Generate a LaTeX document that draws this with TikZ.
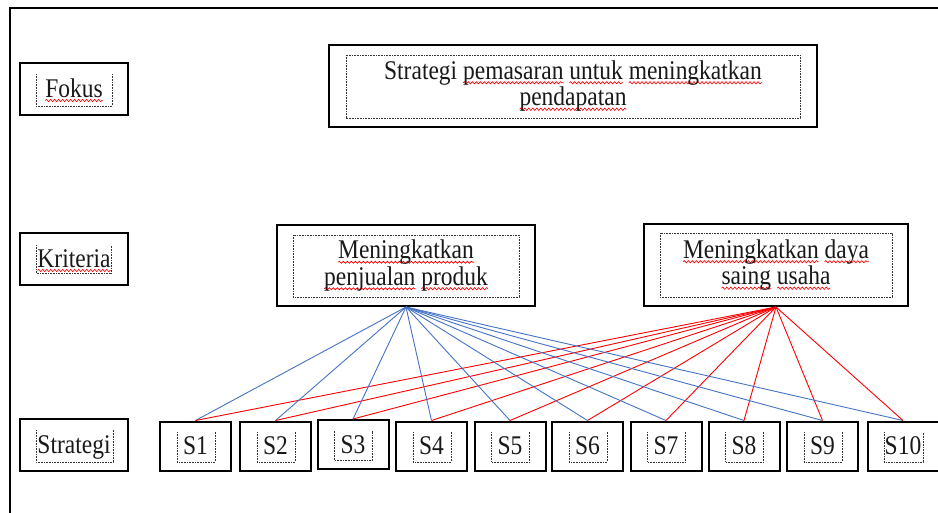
\documentclass[tikz,border=0pt]{standalone}
\usepackage{fontspec}
\setmainfont{Liberation Serif}
\newfontfamily\tallfont{Liberation Serif}[FakeStretch=0.87]
\usetikzlibrary{calc,decorations.pathmorphing}
\newcommand\sq[1]{\setbox0=\hbox{#1}\leavevmode\rlap{\tikz[overlay,baseline=0pt]\draw[red,line width=0.65pt,solid,decorate,decoration={snake,amplitude=1.1pt,segment length=4pt}] (0pt,-3.5pt) -- (\wd0,-3.5pt);}\box0\relax}
\newcommand\openframe[5]{\draw[dotf] ($(#1)+(#2,#3)$) -- ($(#1)+(#2,#5)$) -- ($(#1)+(#4,#5)$) -- ($(#1)+(#4,#3)$);}
\begin{document}
\begin{tikzpicture}[x=1pt,y=-1pt,
  box/.style={draw=black, line width=2pt, inner sep=0pt, text=black!90, font=\tallfont\fontsize{27}{26.5}\selectfont},
  lbl/.style={box, minimum width=108pt, minimum height=52pt, text height=21pt, text depth=4pt},
  sbox/.style={box, minimum width=71pt, minimum height=49pt, text height=21pt, text depth=4pt},
  dotf/.style={line width=0.7pt, dash pattern=on 0.8pt off 0.8pt, draw=black!80},
  bl/.style={draw={rgb,255:red,68;green,114;blue,196}, line width=0.9pt},
  rl/.style={draw=red, line width=0.9pt}]
\useasboundingbox (0,0) rectangle (938,512);
\draw[line width=2pt] (10,525) -- (10,8) -- (950,8);

% left labels
\node[lbl] (fokus) at (74,88.5) {\sq{Fokus}};
\node[lbl] (kriteria) at (74,258.5) {\sq{Kriteria}};
\node[lbl] (strategi) at (74,445) {Strategi};

% focus and criteria
\node[box, align=center, minimum width=488pt, minimum height=82pt] (goal) at (573,86)
  {Strategi \sq{pemasaran} \sq{untuk} \sq{meningkatkan}\\\sq{pendapatan}};
\node[box, align=center, minimum width=258pt, minimum height=81pt] (k1) at (406,265.5)
  {\sq{Meningkatkan}\\\sq{penjualan} \sq{produk}};
\node[box, align=center, minimum width=264pt, minimum height=82pt] (k2) at (776,265)
  {\sq{Meningkatkan} \sq{daya}\\\sq{saing} \sq{usaha}};

% strategies
\node[sbox] (s1) at (195.5,446) {S1};
\node[sbox] (s2) at (275.5,446) {S2};
\node[sbox] (s3) at (353,444.5) {S3};
\node[sbox] (s4) at (431.5,446) {S4};
\node[sbox] (s5) at (510,446) {S5};
\node[sbox] (s6) at (587.5,446) {S6};
\node[sbox] (s7) at (666,446) {S7};
\node[sbox] (s8) at (744,446) {S8};
\node[sbox] (s9) at (822.5,446) {S9};
\node[sbox] (s10) at (903,446) {S10};

% dotted text frames
\openframe{fokus.center}{-38}{-14.5}{38}{17.5}
\openframe{kriteria.center}{-38}{-13.5}{37}{14.5}
\openframe{strategi.center}{-38}{-15}{39}{17}
\foreach \i in {1,...,9} {\openframe{s\i.center}{-18.5}{-14}{19.5}{16}}
\openframe{s10.center}{-19}{-14}{20}{16}
\draw[dotf] ($(goal.center)+(-227,-31)$) rectangle ($(goal.center)+(227,32)$);
\draw[dotf] ($(k1.center)+(-113,-30.5)$) rectangle ($(k1.center)+(113,31.5)$);
\draw[dotf] ($(k2.center)+(-116,-32)$) rectangle ($(k2.center)+(116,32)$);

% connectors
\foreach \i in {1,...,10} {
  \draw[bl] (k1.south) -- (s\i.north);
  \draw[rl] (k2.south) -- (s\i.north);
}
\end{tikzpicture}
\end{document}
